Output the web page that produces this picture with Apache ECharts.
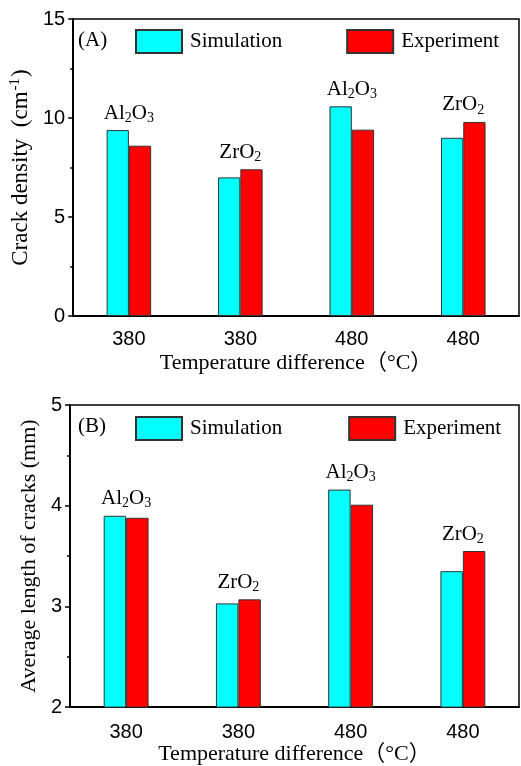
<!DOCTYPE html>
<html>
<head>
<meta charset="utf-8">
<script src="https://cdn.jsdelivr.net/npm/echarts@6/dist/echarts.min.js"></script>
<style>
  html, body { margin: 0; padding: 0; background: #fff; }
  #chart { width: 521px; height: 766px; }
</style>
</head>
<body>
<div id="chart"></div>
<script>
// data
const categories = ['380', '380', '480', '480'];
const materials = ['Al2O3', 'ZrO2', 'Al2O3', 'ZrO2'];
const densitySim = [9.39, 7.0, 10.59, 9.0];
const densityExp = [8.6, 7.41, 9.41, 9.8];
const lengthSim = [3.90, 3.03, 4.16, 3.35];
const lengthExp = [3.88, 3.07, 4.01, 3.55];

const serif = '"Liberation Serif", "Times New Roman", "Noto Sans CJK SC", serif';
const sans = '"Liberation Sans", Arial, sans-serif';

// Al2O3 -> rich text with subscripts
function chem(name) {
  return name.replace(/([A-Za-z]+)|(\d+)/g, (m, letters, digits) =>
    letters ? '{t|' + letters + '}' : '{s|' + digits + '}');
}

const chemRich = {
  t: { fontFamily: serif, fontSize: 21, color: '#000' },
  s: { fontFamily: serif, fontSize: 14, color: '#000', padding: [10, 0, 0, 0] }
};

function barSeries(name, data, color, idx) {
  return {
    name: name,
    type: 'bar',
    xAxisIndex: idx,
    yAxisIndex: idx,
    data: data,
    barWidth: '20%',
    barGap: '0%',
    itemStyle: { color: color, borderColor: '#333', borderWidth: 1 }
  };
}

function labelSeries(sim, exp, idx) {
  return {
    type: 'scatter',
    xAxisIndex: idx,
    yAxisIndex: idx,
    symbolSize: 0,
    silent: true,
    itemStyle: { color: '#000', opacity: 1 },
    data: sim.map((v, i) => Math.max(v, exp[i])),
    label: {
      show: true,
      position: 'top',
      distance: 5,
      color: '#000',
      opacity: 1,
      formatter: p => chem(materials[p.dataIndex]),
      rich: chemRich
    }
  };
}

function xAxis(idx, margin, gap) {
  return {
    type: 'category',
    gridIndex: idx,
    data: categories,
    name: 'Temperature difference（°C）',
    nameLocation: 'middle',
    nameGap: gap,
    nameTextStyle: { fontFamily: serif, fontSize: 22, color: '#000' },
    axisLine: { lineStyle: { color: '#000', width: 2 } },
    axisTick: { length: 5, lineStyle: { color: '#000', width: 1.5 } },
    axisLabel: { fontFamily: sans, fontSize: 20, color: '#000', margin: margin }
  };
}

function yAxis(idx, min, max, interval, name, gap, size, rich) {
  return {
    type: 'value',
    gridIndex: idx,
    min: min,
    max: max,
    interval: interval,
    name: name,
    nameLocation: 'middle',
    nameGap: gap,
    nameTextStyle: { fontFamily: serif, fontSize: size, color: '#000', rich: rich },
    splitLine: { show: false },
    axisLine: { show: true, lineStyle: { color: '#000', width: 2 } },
    axisTick: { show: true, length: 5, lineStyle: { color: '#000', width: 1.5 } },
    minorTick: { show: true, splitNumber: 2, length: 3, lineStyle: { color: '#000', width: 1.5 } },
    axisLabel: { fontFamily: sans, fontSize: 20, color: '#000', margin: 8 }
  };
}

function legend(top, gap) {
  return {
    top: top,
    left: 135,
    padding: 0,
    itemWidth: 46,
    itemHeight: 23,
    itemGap: gap,
    icon: 'rect',
    data: ['Simulation', 'Experiment'],
    textStyle: { fontFamily: serif, fontSize: 21, color: '#000', padding: [0, 0, 0, 3] }
  };
}

const chart = echarts.init(document.getElementById('chart'));
chart.setOption({
  backgroundColor: '#fff',
  animation: false,
  title: [
    { text: '(A)', left: 73, top: 25, textStyle: { fontFamily: serif, fontSize: 21, fontWeight: 'normal', color: '#000' } },
    { text: '(B)', left: 73, top: 411, textStyle: { fontFamily: serif, fontSize: 21, fontWeight: 'normal', color: '#000' } }
  ],
  legend: [legend(29, 64), legend(416, 66)],
  grid: [
    { left: 71, top: 19, width: 448, height: 297, show: true, borderColor: '#000', borderWidth: 1.5 },
    { left: 70, top: 405, width: 449, height: 304, show: true, borderColor: '#000', borderWidth: 1.5 }
  ],
  xAxis: [xAxis(0, 13, 36), xAxis(1, 15, 35)],
  yAxis: [
    yAxis(0, 0, 15, 5, '{t|Crack density  (cm}{u|-1}{t|)}', 31, 23, {
      t: { fontFamily: serif, fontSize: 23, color: '#000' },
      u: { fontFamily: serif, fontSize: 15, color: '#000', padding: [0, 1, 10, 1] }
    }),
    yAxis(1, 2, 5, 1, 'Average length of cracks (mm)', 30, 22)
  ],
  series: [
    barSeries('Simulation', densitySim, '#00FFFF', 0),
    barSeries('Experiment', densityExp, '#FF0000', 0),
    labelSeries(densitySim, densityExp, 0),
    barSeries('Simulation', lengthSim, '#00FFFF', 1),
    barSeries('Experiment', lengthExp, '#FF0000', 1),
    labelSeries(lengthSim, lengthExp, 1)
  ]
});
</script>
</body>
</html>
